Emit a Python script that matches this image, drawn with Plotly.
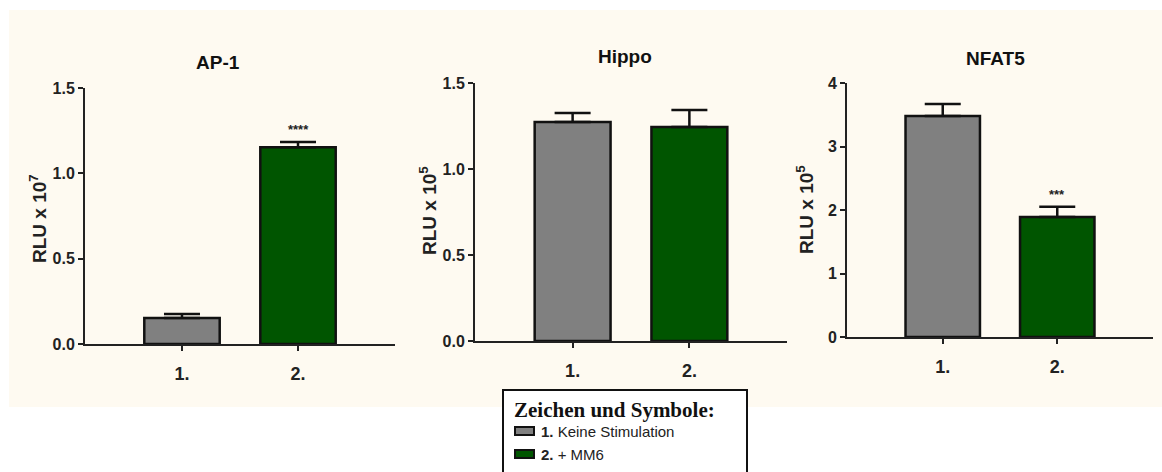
import plotly.graph_objects as go

W, H = 1162, 472

# ---------------- data ----------------
categories = ["1.", "2."]
legend_labels = ["Keine Stimulation", "+ MM6"]
bar_colors = ["#808080", "#005500"]

ap1_mean = [0.153, 1.153]
ap1_err = [0.023, 0.031]
ap1_sig = ["", "****"]

hippo_mean = [1.273, 1.244]
hippo_err = [0.053, 0.099]
hippo_sig = ["", ""]

nfat5_mean = [3.48, 1.89]
nfat5_err = [0.19, 0.16]
nfat5_sig = ["", "***"]

titles = ["AP-1", "Hippo", "NFAT5"]
ylabels = ["RLU x 10<sup>7</sup>", "RLU x 10<sup>5</sup>", "RLU x 10<sup>5</sup>"]
yranges = [[0, 1.5], [0, 1.5], [0, 4]]
ytickvals = [[0, 0.5, 1.0, 1.5], [0, 0.5, 1.0, 1.5], [0, 1, 2, 3, 4]]
yticktext = [["0.0", "0.5", "1.0", "1.5"], ["0.0", "0.5", "1.0", "1.5"], ["0", "1", "2", "3", "4"]]

# ---------------- layout geometry (pixels) ----------------
# (left, right, top, bottom) of each plot area
boxes = [(85, 395, 88, 344), (475, 787, 83, 341), (847, 1153, 83, 337)]
title_pos = [(218, 63), (625, 56), (995, 58)]
ylabel_pos = [(38, 219), (428, 211), (805, 210)]


def px(x):
    return x / W


def py(y):
    return 1 - y / H


AXC = "#222222"
FONT = "Liberation Sans, Arial"
fig = go.Figure()

means = [ap1_mean, hippo_mean, nfat5_mean]
errs = [ap1_err, hippo_err, nfat5_err]
sigs = [ap1_sig, hippo_sig, nfat5_sig]

for i in range(3):
    xa = "x" if i == 0 else f"x{i+1}"
    ya = "y" if i == 0 else f"y{i+1}"
    fig.add_trace(go.Bar(
        x=list(range(len(categories))), y=means[i],
        marker=dict(color=bar_colors, line=dict(color="#111111", width=2.5)),
        width=0.65,
        error_y=dict(type="data", array=errs[i], arrayminus=[0] * len(errs[i]),
                     symmetric=False, color="#111111", thickness=2.5, width=18),
        xaxis=xa, yaxis=ya, showlegend=False, hoverinfo="skip",
    ))
    l, r, t, b = boxes[i]
    xkey = "xaxis" if i == 0 else f"xaxis{i+1}"
    ykey = "yaxis" if i == 0 else f"yaxis{i+1}"
    fig.layout[xkey] = dict(
        domain=[px(l), px(r)], anchor=ya, range=[-0.836, 1.836],
        tickvals=list(range(len(categories))), ticktext=[f"<b>{c}</b>" for c in categories],
        showline=True, linecolor=AXC, linewidth=2,
        ticks="outside", ticklen=5, tickwidth=2, tickcolor=AXC,
        ticklabelstandoff=7,
        showgrid=False, zeroline=False, fixedrange=True, automargin=False,
        tickfont=dict(family=FONT, size=18, color="#222"),
    )
    fig.layout[ykey] = dict(
        domain=[py(b), py(t)], anchor=xa, range=yranges[i],
        tickvals=ytickvals[i], ticktext=[f"<b>{s}</b>" for s in yticktext[i]],
        showline=True, linecolor=AXC, linewidth=2,
        ticks="outside", ticklen=5, tickwidth=2, tickcolor=AXC,
        showgrid=False, zeroline=False, fixedrange=True, automargin=False,
        tickfont=dict(family=FONT, size=16, color="#222"),
    )
    # title
    tx, ty = title_pos[i]
    fig.add_annotation(x=px(tx), y=py(ty), xref="paper", yref="paper",
                       xanchor="center", yanchor="middle",
                       text=f"<b>{titles[i]}</b>", showarrow=False,
                       font=dict(family=FONT, size=19, color="#111"))
    # y label
    lx, ly = ylabel_pos[i]
    fig.add_annotation(x=px(lx), y=py(ly), xref="paper", yref="paper",
                       xanchor="center", yanchor="middle",
                       text=f"<b>{ylabels[i]}</b>", showarrow=False, textangle=-90,
                       font=dict(family=FONT, size=19, color="#222"))
    # significance
    for j, s in enumerate(sigs[i]):
        if s:
            fig.add_annotation(x=j, y=means[i][j] + errs[i][j], xref=xa, yref=ya,
                               xanchor="center", yanchor="bottom",
                               text=f"<b>{s}</b>", showarrow=False, yshift=3,
                               font=dict(family=FONT, size=13, color="#222"))

# background panel
fig.add_shape(type="rect", xref="paper", yref="paper", x0=px(9), x1=px(1162),
              y0=py(407), y1=py(10), fillcolor="#fefaf1", line=dict(width=0), layer="below")

# legend box
fig.add_shape(type="rect", xref="paper", yref="paper", x0=px(503), x1=px(747),
              y0=py(485), y1=py(390), fillcolor="white", line=dict(color="#111", width=2),
              layer="above")
fig.add_annotation(x=px(512), y=py(410), xref="paper", yref="paper",
                   xanchor="left", yanchor="middle",
                   text="<b>Zeichen und Symbole:</b>", showarrow=False,
                   font=dict(family="Liberation Serif, Times New Roman", size=21, color="#111"))
item_y = [431, 454]
for k in range(len(categories)):
    yc = item_y[k]
    fig.add_shape(type="rect", xref="paper", yref="paper", x0=px(515), x1=px(534),
                  y0=py(yc + 4), y1=py(yc - 4), fillcolor=bar_colors[k],
                  line=dict(color="#111", width=2), layer="above")
    fig.add_annotation(x=px(539), y=py(yc), xref="paper", yref="paper",
                       xanchor="left", yanchor="middle",
                       text=f"<b>{categories[k]}</b> {legend_labels[k]}", showarrow=False,
                       font=dict(family=FONT, size=15, color="#222"))

fig.update_layout(
    width=W, height=H, margin=dict(l=0, r=0, t=0, b=0, pad=0, autoexpand=False),
    paper_bgcolor="white", plot_bgcolor="rgba(0,0,0,0)",
    showlegend=False,
)

fig.write_html("out.html")
